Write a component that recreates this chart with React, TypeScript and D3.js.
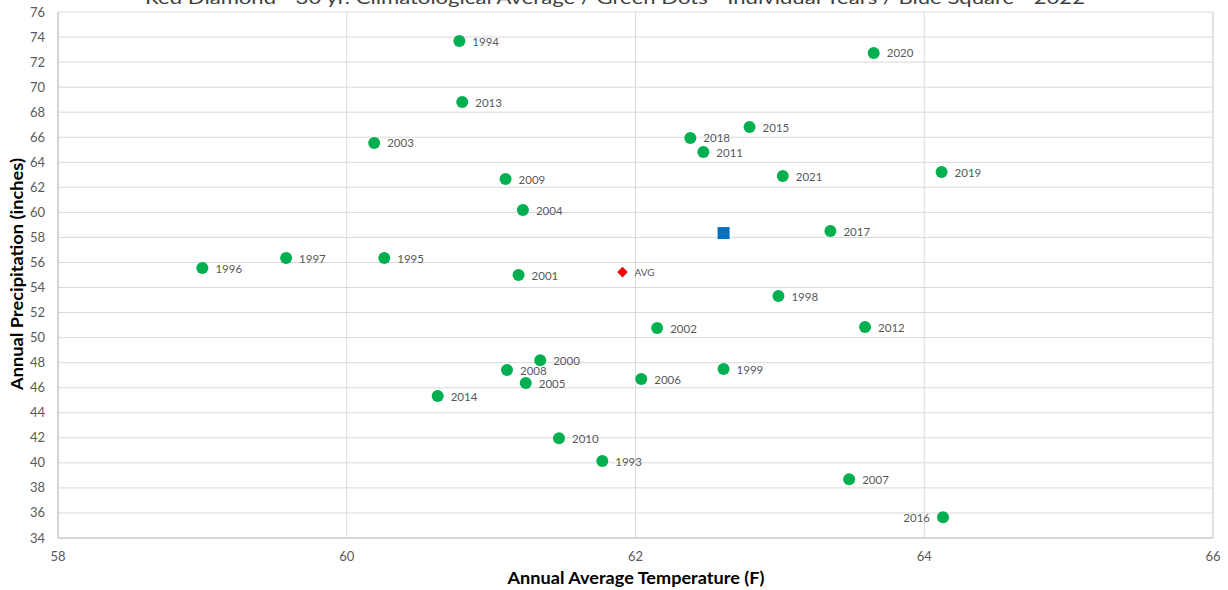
import React from "react";
import * as d3 from "d3";

const years = [
  "1994", "2020", "2013", "2003", "2018", "2015", "2011", "2009", "2021", "2019",
  "2004", "2017", "1996", "1997", "1995", "2001", "1998", "2002", "2012", "2000",
  "2008", "2005", "1999", "2006", "2014", "2010", "1993", "2007", "2016",
];
const temps = [
  60.78, 63.65, 60.80, 60.19, 62.38, 62.79, 62.47, 61.10, 63.02, 64.12,
  61.22, 63.35, 59.00, 59.58, 60.26, 61.19, 62.99, 62.15, 63.59, 61.34,
  61.11, 61.24, 62.61, 62.04, 60.63, 61.47, 61.77, 63.48, 64.13,
];
const precip = [
  73.68, 72.73, 68.81, 65.54, 65.94, 66.81, 64.82, 62.66, 62.90, 63.22,
  60.19, 58.51, 55.55, 56.35, 56.35, 55.00, 53.32, 50.76, 50.84, 48.20,
  47.41, 46.37, 47.49, 46.69, 45.33, 41.97, 40.14, 38.70, 35.66,
];
const leftLabels = ["2016"];

const avgPoint = { label: "AVG", temp: 61.91, precip: 55.23 };
const point2022 = { temp: 62.61, precip: 58.35 };

const xTicks = [58, 60, 62, 64, 66];
const yTicks = d3.range(34, 77, 2);

const titleText =
  "Red Diamond - 30 yr. Climatological Average / Green Dots - Individual Years / Blue Square - 2022";

export default function App() {
  const W = 1228, H = 590;
  const left = 58, right = 1213, top = 12, bottom = 538;
  const x = d3.scaleLinear().domain([58, 66]).range([left, right]);
  const y = d3.scaleLinear().domain([34, 76]).range([bottom, top]);
  const font = "Lato, 'Open Sans', sans-serif";
  const grid = "#d9d9d9";
  const txt = "#595959";

  const diamond = d3.symbol().type(d3.symbolSquare).size(56)();

  return (
    <svg
      width={W}
      height={H}
      style={{ position: "absolute", left: 0, top: 0, background: "#fff" }}
      fontFamily={font}
    >
      <rect x={0} y={0} width={W} height={H} fill="#fff" />
      <text
        x={615}
        y={4}
        textAnchor="middle"
        fontSize={18}
        fill="#404040"
        textLength={940}
        lengthAdjust="spacingAndGlyphs"
      >
        {titleText}
      </text>
      {yTicks.map((t) => (
        <g key={"y" + t}>
          <line x1={left} x2={right} y1={y(t)} y2={y(t)} stroke={grid} strokeWidth={1} />
          <text x={left - 13} y={y(t) + 4.5} textAnchor="end" fontSize={13} fill={txt}>
            {t}
          </text>
        </g>
      ))}
      {xTicks.map((t) => (
        <g key={"x" + t}>
          <line x1={x(t)} x2={x(t)} y1={top} y2={bottom} stroke={grid} strokeWidth={1} />
          <text x={x(t)} y={561} textAnchor="middle" fontSize={13} fill={txt}>
            {t}
          </text>
        </g>
      ))}
      <line x1={left} x2={left} y1={top} y2={bottom} stroke="#bfbfbf" />
      <line x1={left} x2={right} y1={bottom} y2={bottom} stroke="#bfbfbf" />
      <line x1={right} x2={right} y1={top} y2={bottom} stroke="#d9d9d9" />

      {years.map((yr, i) => {
        const cx = x(temps[i]);
        const cy = y(precip[i]);
        const isLeft = leftLabels.includes(yr);
        return (
          <g key={yr}>
            <circle cx={cx} cy={cy} r={6} fill="#00b050" />
            <text
              x={isLeft ? cx - 13 : cx + 13}
              y={cy + 4.5}
              textAnchor={isLeft ? "end" : "start"}
              fontSize={11.5}
              fill={txt}
            >
              {yr}
            </text>
          </g>
        );
      })}

      <path
        d={diamond}
        transform={`translate(${x(avgPoint.temp)},${y(avgPoint.precip)}) rotate(45)`}
        fill="#ff0000"
      />
      <text
        x={x(avgPoint.temp) + 12}
        y={y(avgPoint.precip) + 3.5}
        fontSize={10}
        fill={txt}
      >
        {avgPoint.label}
      </text>
      <rect
        x={x(point2022.temp) - 6}
        y={y(point2022.precip) - 6}
        width={12}
        height={12}
        fill="#0070c0"
      />

      <text
        x={636}
        y={584}
        textAnchor="middle"
        fontSize={17}
        fontWeight="bold"
        fill="#000"
        textLength={257}
        lengthAdjust="spacingAndGlyphs"
      >
        Annual  Average Temperature  (F)
      </text>
      <text
        transform={`translate(23,${(top + bottom) / 2 - 1}) rotate(-90)`}
        textAnchor="middle"
        fontSize={17}
        fontWeight="bold"
        fill="#000"
        textLength={232}
        lengthAdjust="spacingAndGlyphs"
      >
        Annual  Precipitation  (inches)
      </text>
    </svg>
  );
}
